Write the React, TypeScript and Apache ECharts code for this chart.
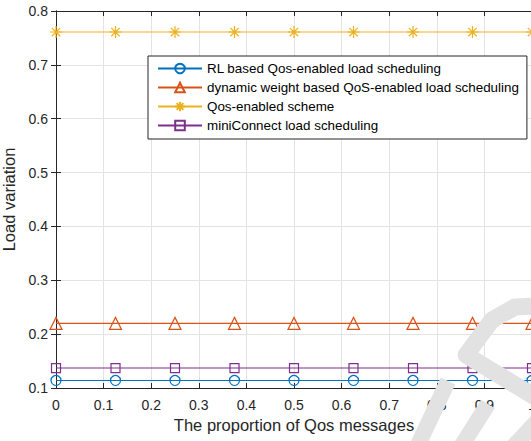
import React, { useEffect, useRef } from "react";
import * as echarts from "echarts";

const xValues = [0, 0.125, 0.25, 0.375, 0.5, 0.625, 0.75, 0.875, 1];
const rlValues = [0.114, 0.114, 0.114, 0.114, 0.114, 0.114, 0.114, 0.114, 0.114];
const dynValues = [0.22, 0.22, 0.22, 0.22, 0.22, 0.22, 0.22, 0.22, 0.22];
const qosValues = [0.761, 0.761, 0.761, 0.761, 0.761, 0.761, 0.761, 0.761, 0.761];
const miniValues = [0.137, 0.137, 0.137, 0.137, 0.137, 0.137, 0.137, 0.137, 0.137];
const seriesNames = [
  "RL based Qos-enabled load scheduling",
  "dynamic weight based QoS-enabled load scheduling",
  "Qos-enabled scheme",
  "miniConnect load scheduling",
];
const xTitle = "The proportion of Qos messages";
const yTitle = "Load variation";

const FONT = "'Liberation Sans', Arial, Helvetica, sans-serif";
const AX = "#262626";
const GRIDC = "#e3e3e3";
const WM = "#e2e2e2";

const asterisk = "path://M0,-1L0,1M-1,0L1,0M-0.7,-0.7L0.7,0.7M-0.7,0.7L0.7,-0.7";

function pairs(vals: number[]) {
  return xValues.map((x, i) => [x, vals[i]]);
}

export default function App() {
  const ref = useRef<HTMLDivElement>(null);
  useEffect(() => {
    if (!ref.current) return;
    const chart = echarts.init(ref.current, null, { renderer: "svg" });
    const mk = (name: string, vals: number[], color: string, symbol: string, size: number) => ({
      name,
      type: "line",
      data: pairs(vals),
      symbol,
      symbolSize: size,
      showAllSymbol: true,
      lineStyle: { color, width: 1.1 },
      itemStyle: { color: "transparent", borderColor: color, borderWidth: 1.2 },
      emphasis: { disabled: true },
      z: 3,
    });
    chart.setOption({
      animation: false,
      grid: {
        left: 56,
        top: 11,
        width: 476,
        height: 377,
        containLabel: false,
        outerBoundsMode: "none",
      },
      legend: {
        orient: "vertical",
        left: 148,
        top: 56,
        padding: [6, 8, 7, 9],
        itemWidth: 44,
        itemHeight: 12,
        itemGap: 6,
        backgroundColor: "#ffffff",
        borderColor: AX,
        borderWidth: 1,
        textStyle: { fontFamily: FONT, fontSize: 13.4, color: "#000" },
        data: seriesNames,
      },
      xAxis: [
        {
          type: "value",
          min: 0,
          max: 1,
          interval: 0.1,
          name: xTitle,
          nameLocation: "middle",
          nameGap: 28,
          nameTextStyle: { fontFamily: FONT, fontSize: 16.5, color: AX },
          axisLine: { lineStyle: { color: AX, width: 1 } },
          axisTick: { inside: true, length: 5, lineStyle: { color: AX } },
          axisLabel: { fontFamily: FONT, fontSize: 14, color: AX, margin: 10 },
          splitLine: { show: true, lineStyle: { color: GRIDC, width: 1 } },
        },
        {
          type: "value",
          position: "top",
          min: 0,
          max: 1,
          interval: 0.1,
          axisLine: { show: true, lineStyle: { color: AX, width: 1 } },
          axisTick: { inside: true, length: 5, lineStyle: { color: AX } },
          axisLabel: { show: false },
          splitLine: { show: false },
        },
      ],
      yAxis: [
        {
          type: "value",
          min: 0.1,
          max: 0.8,
          interval: 0.1,
          name: yTitle,
          nameLocation: "middle",
          nameGap: 34,
          nameTextStyle: { fontFamily: FONT, fontSize: 16.5, color: AX },
          axisLine: { show: true, lineStyle: { color: AX, width: 1 } },
          axisTick: { show: true, inside: true, length: 5, lineStyle: { color: AX } },
          axisLabel: { fontFamily: FONT, fontSize: 14, color: AX, margin: 8 },
          splitLine: { show: true, lineStyle: { color: GRIDC, width: 1 } },
        },
        {
          type: "value",
          position: "right",
          min: 0.1,
          max: 0.8,
          interval: 0.1,
          axisLine: { show: true, lineStyle: { color: AX, width: 1 } },
          axisTick: { show: true, inside: true, length: 5, lineStyle: { color: AX } },
          axisLabel: { show: false },
          splitLine: { show: false },
        },
      ],
      series: [
        mk(seriesNames[0], rlValues, "#0072BD", "circle", 10),
        mk(seriesNames[1], dynValues, "#D95319", "triangle", 12),
        mk(seriesNames[2], qosValues, "#EDB120", asterisk, 12),
        mk(seriesNames[3], miniValues, "#7E2F8E", "rect", 9),
      ],
      graphic: [
        {
          type: "polyline",
          z: 100,
          shape: { points: [[540, 306], [515, 307], [492, 320], [466, 355], [540, 400]] },
          style: { stroke: WM, lineWidth: 17, fill: null, lineJoin: "round" },
        },
        {
          type: "line",
          z: 100,
          shape: { x1: 448, y1: 381, x2: 418, y2: 445 },
          style: { stroke: WM, lineWidth: 16 },
        },
        {
          type: "line",
          z: 100,
          shape: { x1: 488, y1: 404, x2: 462, y2: 445 },
          style: { stroke: WM, lineWidth: 16 },
        },
        {
          type: "line",
          z: 100,
          shape: { x1: 540, y1: 418, x2: 512, y2: 448 },
          style: { stroke: WM, lineWidth: 16 },
        },
      ],
    });
    return () => chart.dispose();
  }, []);
  return (
    <div
      ref={ref}
      style={{ position: "fixed", left: 0, top: 0, width: 531, height: 441, background: "#fff" }}
    />
  );
}
